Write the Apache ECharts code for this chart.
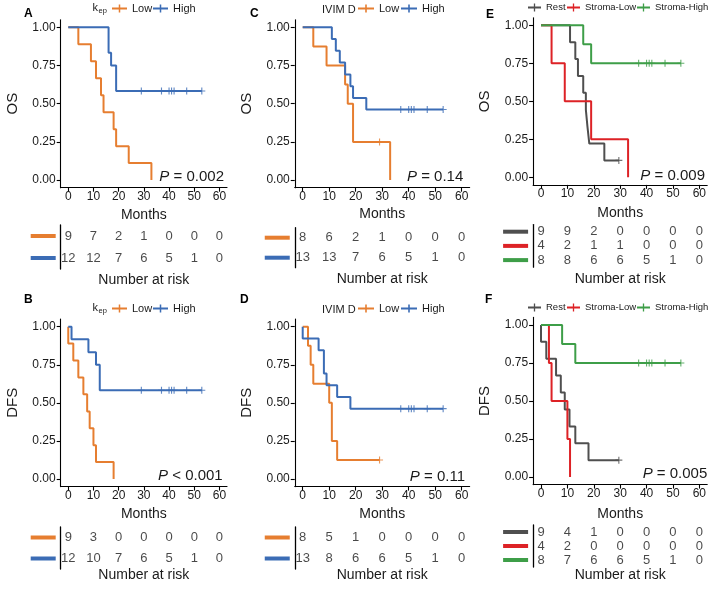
<!DOCTYPE html>
<html><head><meta charset="utf-8">
<script src="https://cdn.jsdelivr.net/npm/echarts@6/dist/echarts.min.js"></script>
<style>html,body{margin:0;padding:0;background:#fff;}#c{width:709px;height:596px;}</style>
</head><body><div id="c"></div>
<script>
// ---------- data ----------
const monthTicks = [0, 10, 20, 30, 40, 50, 60];
const survTicks = [0, 0.25, 0.5, 0.75, 1];

// A: OS by kep
const A_low_t = [0, 4, 9, 11, 13, 14, 18, 19, 24, 33];
const A_low_s = [1, 0.889, 0.778, 0.667, 0.556, 0.444, 0.333, 0.222, 0.111, 0];
const A_low_c = [];
const A_high_t = [0, 16, 17, 19, 53];
const A_high_s = [1, 0.833, 0.75, 0.583, 0.583];
const A_high_c = [29, 37, 40, 41, 42, 47, 53];
const A_low_risk = [9, 7, 2, 1, 0, 0, 0];
const A_high_risk = [12, 12, 7, 6, 5, 1, 0];

// B: DFS by kep
const B_low_t = [0, 0, 2, 4, 6, 7.5, 8.5, 10, 11, 18];
const B_low_s = [1, 0.889, 0.778, 0.667, 0.556, 0.444, 0.333, 0.222, 0.111, 0];
const B_low_c = [];
const B_high_t = [0, 1.3, 8, 11, 12.5, 53];
const B_high_s = [1, 0.917, 0.833, 0.75, 0.583, 0.583];
const B_high_c = [29, 37, 40, 41, 42, 47, 53];
const B_low_risk = [9, 3, 0, 0, 0, 0, 0];
const B_high_risk = [12, 10, 7, 6, 5, 1, 0];

// C: OS by IVIM D
const C_low_t = [0, 4, 9, 16, 17, 19, 33];
const C_low_s = [1, 0.875, 0.75, 0.625, 0.5, 0.25, 0];
const C_low_c = [29];
const C_high_t = [0, 11, 12.5, 14, 16, 18, 19, 24, 53];
const C_high_s = [1, 0.923, 0.846, 0.769, 0.692, 0.615, 0.538, 0.462, 0.462];
const C_high_c = [37, 40, 41, 42, 47, 53];
const C_low_risk = [8, 6, 2, 1, 0, 0, 0];
const C_high_risk = [13, 13, 7, 6, 5, 1, 0];

// D: DFS by IVIM D
const D_low_t = [0, 2, 3, 4, 10, 11, 13, 29];
const D_low_s = [1, 0.875, 0.75, 0.625, 0.5, 0.25, 0.125, 0.125];
const D_low_c = [29];
const D_high_t = [0, 0, 6, 8, 9, 13, 18, 53];
const D_high_s = [1, 0.923, 0.846, 0.692, 0.615, 0.538, 0.462, 0.462];
const D_high_c = [37, 40, 41, 42, 47, 53];
const D_low_risk = [8, 5, 1, 0, 0, 0, 0];
const D_high_risk = [13, 8, 6, 6, 5, 1, 0];

// E: OS by stroma group
const E_rest_t = [0, 11, 13, 14, 16, 17, 17.6, 18.3, 24, 29.5];
const E_rest_s = [1, 0.889, 0.778, 0.667, 0.556, 0.444, 0.333, 0.222, 0.111, 0.111];
const E_rest_c = [29.5];
const E_sl_t = [0, 4, 9, 19, 33];
const E_sl_s = [1, 0.75, 0.5, 0.25, 0];
const E_sl_c = [];
const E_sh_t = [0, 16, 19, 53];
const E_sh_s = [1, 0.875, 0.75, 0.75];
const E_sh_c = [37, 40, 41, 42, 47, 53];
const E_rest_risk = [9, 9, 2, 0, 0, 0, 0];
const E_sl_risk = [4, 2, 1, 1, 0, 0, 0];
const E_sh_risk = [8, 8, 6, 6, 5, 1, 0];

// F: DFS by stroma group
const F_rest_t = [0, 0, 2, 5.7, 7.5, 9, 10.8, 13, 18, 29.5];
const F_rest_s = [1, 0.889, 0.778, 0.667, 0.556, 0.444, 0.333, 0.222, 0.111, 0.111];
const F_rest_c = [29.5];
const F_sl_t = [0, 3, 4, 10, 11];
const F_sl_s = [1, 0.75, 0.5, 0.25, 0];
const F_sl_c = [];
const F_sh_t = [0, 8, 13, 53];
const F_sh_s = [1, 0.875, 0.75, 0.75];
const F_sh_c = [37, 40, 41, 42, 47, 53];
const F_rest_risk = [9, 4, 1, 0, 0, 0, 0];
const F_sl_risk = [4, 2, 0, 0, 0, 0, 0];
const F_sh_risk = [8, 7, 6, 6, 5, 1, 0];

const pValues = ['= 0.002', '< 0.001', '= 0.14', '= 0.11', '= 0.009', '= 0.005'];

// ---------- styling / layout ----------
const FONT = '"Liberation Sans", Arial, Helvetica, sans-serif';
const TXT = '#1a1a1a';
const COL = { orange: '#E67E30', blue: '#3B6CB5', gray: '#4f4f4f', red: '#DD2226', green: '#3E9E48' };
const PLUS = 'path://M4.2,0H5.8V10H4.2Z M0,4.2H10V5.8H0Z';
const LEGICON = 'path://M0,3.1H16V4.9H0Z M7.2,0H8.8V8H7.2Z';

const panels = [
  { letter: 'A', lx: 24, ly: 14, yName: 'OS', left: 60.7, width: 166.3, top: 19.7, height: 168,
    rTop: 225, rH: 44, mGap: 27, rGap: 11, px: 224, py: 176.7,
    legTop: 3, legFont: 11, legW: 15, legLefts: [112, 153], title: 'kep',
    groups: [
      { name: 'Low', color: COL.orange, t: A_low_t, s: A_low_s, c: A_low_c, r: A_low_risk },
      { name: 'High', color: COL.blue, t: A_high_t, s: A_high_s, c: A_high_c, r: A_high_risk }] },
  { letter: 'B', lx: 24, ly: 300, yName: 'DFS', left: 60.7, width: 166.3, top: 319.1, height: 167.5,
    rTop: 527, rH: 42, mGap: 27.4, rGap: 6, px: 222.7, py: 475.7,
    legTop: 303, legFont: 11, legW: 15, legLefts: [112, 153], title: 'kep',
    groups: [
      { name: 'Low', color: COL.orange, t: B_low_t, s: B_low_s, c: B_low_c, r: B_low_risk },
      { name: 'High', color: COL.blue, t: B_high_t, s: B_high_s, c: B_high_c, r: B_high_risk }] },
  { letter: 'C', lx: 250, ly: 14, yName: 'OS', left: 294.75, width: 174.9, top: 19.7, height: 168,
    rTop: 227.7, rH: 40, mGap: 26.7, rGap: 11.3, px: 463.3, py: 176.7,
    legTop: 3, legFont: 11, legW: 16, legLefts: [358, 401], title: 'IVIM D',
    groups: [
      { name: 'Low', color: COL.orange, t: C_low_t, s: C_low_s, c: C_low_c, r: C_low_risk },
      { name: 'High', color: COL.blue, t: C_high_t, s: C_high_s, c: C_high_c, r: C_high_risk }] },
  { letter: 'D', lx: 240, ly: 300, yName: 'DFS', left: 294.75, width: 174.9, top: 319.1, height: 167.5,
    rTop: 527, rH: 42, mGap: 27.4, rGap: 6, px: 465, py: 476.7,
    legTop: 303, legFont: 11, legW: 16, legLefts: [358, 401], title: 'IVIM D',
    groups: [
      { name: 'Low', color: COL.orange, t: D_low_t, s: D_low_s, c: D_low_c, r: D_low_risk },
      { name: 'High', color: COL.blue, t: D_high_t, s: D_high_s, c: D_high_c, r: D_high_risk }] },
  { letter: 'E', lx: 486, ly: 14.5, yName: 'OS', left: 533.1, width: 174.2, top: 17.7, height: 167.2,
    rTop: 224.6, rH: 42.6, mGap: 28.1, rGap: 11.8, px: 705, py: 175.7,
    legTop: 2.5, legFont: 9.5, legW: 13, legLefts: [528, 567, 637], title: '',
    groups: [
      { name: 'Rest', color: COL.gray, t: E_rest_t, s: E_rest_s, c: E_rest_c, r: E_rest_risk },
      { name: 'Stroma-Low', color: COL.red, t: E_sl_t, s: E_sl_s, c: E_sl_c, r: E_sl_risk },
      { name: 'Stroma-High', color: COL.green, t: E_sh_t, s: E_sh_s, c: E_sh_c, r: E_sh_risk }] },
  { letter: 'F', lx: 485, ly: 300, yName: 'DFS', left: 533.1, width: 174.2, top: 317.4, height: 167.2,
    rTop: 525, rH: 42, mGap: 29.4, rGap: 8, px: 707.3, py: 474,
    legTop: 302.5, legFont: 9.5, legW: 13, legLefts: [528, 567, 637], title: '',
    groups: [
      { name: 'Rest', color: COL.gray, t: F_rest_t, s: F_rest_s, c: F_rest_c, r: F_rest_risk },
      { name: 'Stroma-Low', color: COL.red, t: F_sl_t, s: F_sl_s, c: F_sl_c, r: F_sl_risk },
      { name: 'Stroma-High', color: COL.green, t: F_sh_t, s: F_sh_s, c: F_sh_c, r: F_sh_risk }] }
];

function survAt(t, s, x) { let v = s[0]; for (let i = 0; i < t.length; i++) if (t[i] <= x) v = s[i]; return v; }

const grid = [], xAxis = [], yAxis = [], series = [], legend = [], graphic = [];
const axisLineStyle = { color: '#000', width: 1.1 };

panels.forEach((p, pi) => {
  const gi = pi * 2;
  grid.push({ left: p.left, top: p.top, width: p.width, height: p.height });
  grid.push({ left: p.left, top: p.rTop, width: p.width, height: p.rH });
  // main axes
  xAxis.push({ type: 'value', gridIndex: gi, min: -3, max: 63,
    axisLine: { onZero: false, lineStyle: axisLineStyle },
    axisTick: { show: true, length: 4, customValues: monthTicks, lineStyle: axisLineStyle },
    axisLabel: { customValues: monthTicks, fontSize: 12, color: TXT, fontFamily: FONT, margin: 3 },
    splitLine: { show: false },
    name: 'Months', nameLocation: 'middle', nameGap: p.mGap,
    nameTextStyle: { fontSize: 14, color: TXT, fontFamily: FONT, verticalAlign: 'middle' } });
  yAxis.push({ type: 'value', gridIndex: gi, min: -0.05, max: 1.05,
    axisLine: { show: true, onZero: false, lineStyle: axisLineStyle },
    axisTick: { show: true, length: 4, customValues: survTicks, lineStyle: axisLineStyle },
    axisLabel: { customValues: survTicks, fontSize: 12, color: TXT, fontFamily: FONT, margin: 5,
      formatter: v => Number(v).toFixed(2) },
    splitLine: { show: false },
    name: p.yName, nameLocation: 'middle', nameGap: 48, nameRotate: 90,
    nameTextStyle: { fontSize: 15, color: TXT, fontFamily: FONT, verticalAlign: 'middle' } });
  // risk axes
  xAxis.push({ type: 'value', gridIndex: gi + 1, min: -3, max: 63,
    axisLine: { show: false, onZero: false }, axisTick: { show: false }, axisLabel: { show: false }, splitLine: { show: false },
    name: 'Number at risk', nameLocation: 'middle', nameGap: p.rGap,
    nameTextStyle: { fontSize: 14, color: TXT, fontFamily: FONT, verticalAlign: 'middle' } });
  const rich = {};
  p.groups.forEach((g, k) => { rich['c' + k] = { backgroundColor: g.color, width: 25, height: 4, lineHeight: 4, fontSize: 4 }; });
  yAxis.push({ type: 'category', gridIndex: gi + 1, inverse: true, data: p.groups.map(g => g.name),
    axisLine: { show: true, onZero: false, lineStyle: { color: '#000', width: 1.3 } },
    axisTick: { show: false }, splitLine: { show: false },
    axisLabel: { margin: 5, interval: 0, hideOverlap: false, fontSize: 4, lineHeight: 4,
      formatter: (v, idx) => '{c' + idx + '| }', rich: rich } });

  // curves
  p.groups.forEach((g, k) => {
    series.push({ type: 'line', name: g.name, xAxisIndex: gi, yAxisIndex: gi, step: 'end',
      symbol: 'none', showSymbol: false, silent: true, animation: false,
      color: g.color, lineStyle: { color: g.color, width: 2 },
      data: g.t.map((x, i) => [x, g.s[i]]) });
    if (g.c.length) series.push({ type: 'scatter', name: g.name + ' censored', xAxisIndex: gi, yAxisIndex: gi,
      symbol: PLUS, symbolSize: 7, silent: true, animation: false,
      itemStyle: { color: g.color },
      data: g.c.map(x => [x, survAt(g.t, g.s, x)]) });
  });
  // risk table numbers
  const rdata = [];
  p.groups.forEach((g, k) => g.r.forEach((n, j) => rdata.push([monthTicks[j], k, n])));
  series.push({ type: 'scatter', name: 'risk' + p.letter, xAxisIndex: gi + 1, yAxisIndex: gi + 1,
    symbolSize: 1, silent: true, animation: false, itemStyle: { color: 'rgba(0,0,0,0)' },
    labelLayout: { hideOverlap: false },
    label: { show: true, position: 'inside', formatter: d => String(d.value[2]),
      fontSize: 13, color: TXT, fontFamily: FONT },
    data: rdata });

  // legends (one per item for exact placement)
  p.groups.forEach((g, k) => {
    legend.push({ data: [g.name], left: p.legLefts[k], top: p.legTop, padding: 0, selectedMode: false,
      icon: LEGICON, itemWidth: p.legW, itemHeight: 8, symbolKeepAspect: false,
      itemStyle: { color: g.color },
      textStyle: { fontSize: p.legFont, color: TXT, fontFamily: FONT } });
  });
  // legend title
  const lyc = p.legTop + 6.5;
  if (p.title === 'kep') {
    graphic.push({ type: 'text', x: 92.5, y: lyc + 3.5, style: { text: 'k', fontSize: 11, fontFamily: FONT, fill: TXT, align: 'left', verticalAlign: 'bottom' } });
    graphic.push({ type: 'text', x: 98.5, y: lyc + 5, style: { text: 'ep', fontSize: 7.5, fontFamily: FONT, fill: TXT, align: 'left', verticalAlign: 'bottom' } });
  } else if (p.title) {
    graphic.push({ type: 'text', x: 322, y: lyc, style: { text: p.title, fontSize: 11, fontFamily: FONT, fill: TXT, align: 'left', verticalAlign: 'middle' } });
  }
  // panel letter
  graphic.push({ type: 'text', x: p.lx, y: p.ly, style: { text: p.letter, fontSize: 12, fontWeight: 'bold', fontFamily: FONT, fill: '#000', align: 'left', verticalAlign: 'middle' } });
  // p-value
  graphic.push({ type: 'text', x: p.px, y: p.py, style: { text: '{i|P} ' + pValues[pi], fontSize: 15, fontFamily: FONT, fill: TXT, align: 'right', verticalAlign: 'middle',
    rich: { i: { fontStyle: 'italic', fontSize: 15, fontFamily: FONT, fill: TXT } } } });
});

const chart = echarts.init(document.getElementById('c'), null, { renderer: 'canvas' });
chart.setOption({ animation: false, backgroundColor: '#fff', grid, xAxis, yAxis, series, legend, graphic });
</script></body></html>
